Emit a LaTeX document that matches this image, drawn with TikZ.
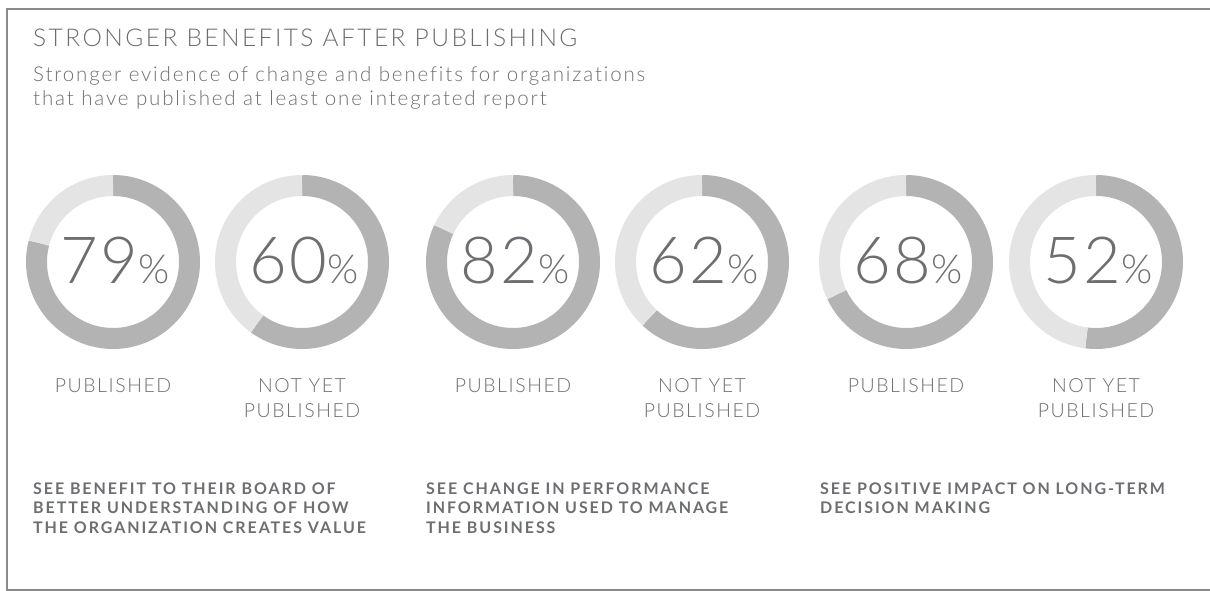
\documentclass[tikz,border=0pt]{standalone}
\usepackage{fontspec}
\setmainfont{Lato}
\newfontfamily\titlefont{Lato Light}[LetterSpace=10]
\newfontfamily\subfont{Lato Light}[LetterSpace=9,Ligatures={NoCommon,NoRare}]
\newfontfamily\lblfont{Lato Light}[LetterSpace=8]
\newfontfamily\numfont{Lato Light}[LetterSpace=4]
\newfontfamily\notefont{Lato Bold}[LetterSpace=12]
\definecolor{ringdark}{HTML}{B3B3B3}
\definecolor{ringlight}{HTML}{E4E4E4}
\definecolor{txt}{HTML}{6D6E71}
\definecolor{frame}{HTML}{8A8A8A}
\tikzset{
  title/.style={anchor=base west, inner sep=0pt, text=txt, font=\titlefont\fontsize{24.5}{24.5}\selectfont},
  sub/.style={anchor=base west, inner sep=0pt, text=txt, align=left, font=\subfont\fontsize{20.5}{24}\selectfont},
  pct/.style={anchor=base, inner sep=0pt, text=txt},
  lbl/.style={anchor=base, inner sep=0pt, text=txt, align=center, font=\lblfont\fontsize{19.5}{25}\selectfont},
  note/.style={anchor=base west, inner sep=0pt, text=txt, align=left, font=\notefont\fontsize{16}{19.5}\selectfont},
}
\newcommand{\donut}[3]{%
  \coordinate (#1) at (#2,262);
  \draw[ringdark, line width=21pt] (#1) ++(-90:76.5) arc[start angle=-90, end angle={-90+3.6*#3}, radius=76.5];
  \draw[ringlight, line width=21pt] (#1) ++({-90+3.6*#3}:76.5) arc[start angle={-90+3.6*#3}, end angle=270, radius=76.5];
  \node[pct] (#1t) at ([yshift=-21pt,xshift=2pt]#1) {{\numfont\fontsize{65}{65}\selectfont #3}{\numfont\fontsize{40}{40}\selectfont\%}};
}
\begin{document}
\begin{tikzpicture}[x=1pt,y=-1pt]
\useasboundingbox (0,0) rectangle (1210,591);
\draw[frame, line width=1.5pt] (1210,9) -- (7,9) -- (7,590) -- (1210,590);
\node[title] (ttl) at (33,47) {STRONGER BENEFITS AFTER PUBLISHING};
\node[sub] (sbt) at (33,106) {Stronger evidence of change and benefits for organizations\\that have published at least one integrated report};
\donut{d1}{113}{79}
\donut{d2}{302}{60}
\donut{d3}{513}{82}
\donut{d4}{702}{62}
\donut{d5}{906}{68}
\donut{d6}{1096}{52}
\node[lbl] (l1) at (113,392) {PUBLISHED};
\node[lbl] (l2) at (302,417) {NOT YET\\PUBLISHED};
\node[lbl] (l3) at (513,392) {PUBLISHED};
\node[lbl] (l4) at (702,417) {NOT YET\\PUBLISHED};
\node[lbl] (l5) at (906,392) {PUBLISHED};
\node[lbl] (l6) at (1096,417) {NOT YET\\PUBLISHED};
\node[note] (n1) at (33,533) {SEE BENEFIT TO THEIR BOARD OF\\BETTER UNDERSTANDING OF HOW\\THE ORGANIZATION CREATES VALUE};
\node[note] (n2) at (426,533) {SEE CHANGE IN PERFORMANCE\\INFORMATION USED TO MANAGE\\THE BUSINESS};
\node[note] (n3) at (820,513.5) {SEE POSITIVE IMPACT ON LONG-TERM\\DECISION MAKING};
\end{tikzpicture}
\end{document}
